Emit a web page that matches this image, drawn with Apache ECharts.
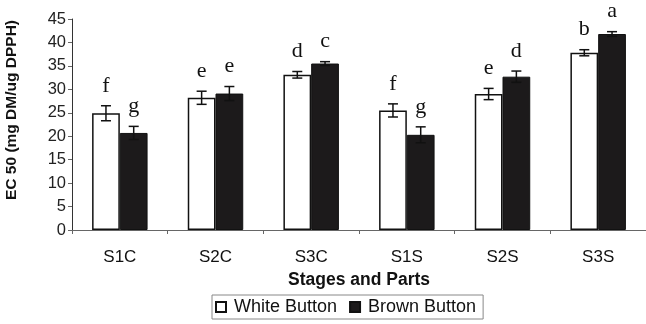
<!DOCTYPE html>
<html>
<head>
<meta charset="utf-8">
<script src="https://cdn.jsdelivr.net/npm/echarts@6/dist/echarts.min.js"></script>
<style>html,body{margin:0;padding:0;background:#fff;}#chart{width:646px;height:324px;}</style>
</head>
<body>
<div id="chart"></div>
<script>
var categories = ['S1C', 'S2C', 'S3C', 'S1S', 'S2S', 'S3S'];
var whiteButton = [24.9, 28.2, 33.1, 25.5, 29.0, 37.8];
var brownButton = [20.7, 29.1, 35.5, 20.3, 32.7, 41.8];
var whiteErr = [1.6, 1.4, 0.7, 1.4, 1.2, 0.65];
var brownErr = [1.4, 1.5, 0.4, 1.7, 1.2, 0.5];
var whiteLetters = ['f', 'e', 'd', 'f', 'e', 'b'];
var brownLetters = ['g', 'e', 'c', 'g', 'd', 'a'];
var yTicks = {min: 0, max: 45, interval: 5};

var BAR_FRAC = 0.29;
var sans = 'Liberation Sans, Arial, sans-serif';
var serif = 'Liberation Serif, Times New Roman, serif';

function errSeries(name, means, errs, letters, side) {
  return {
    type: 'custom',
    name: name + ' err',
    z: 5,
    silent: true,
    data: means.map(function (m, i) { return [i, m, errs[i]]; }),
    renderItem: function (params, api) {
      var i = api.value(0), m = api.value(1), e = api.value(2);
      var band = api.size([1, 0])[0];
      var off = side * band * BAR_FRAC / 2;
      var top = api.coord([i, m + e]);
      var bot = api.coord([i, m - e]);
      var x = top[0] + off;
      var cap = 5;
      var st = {stroke: '#111', lineWidth: 1.5};
      return {
        type: 'group',
        children: [
          {type: 'line', shape: {x1: x, y1: top[1], x2: x, y2: bot[1]}, style: st},
          {type: 'line', shape: {x1: x - cap, y1: top[1], x2: x + cap, y2: top[1]}, style: st},
          {type: 'line', shape: {x1: x - cap, y1: bot[1], x2: x + cap, y2: bot[1]}, style: st},
          {type: 'text', x: x, y: top[1] - 9,
            style: {text: letters[params.dataIndex], fontFamily: serif, fontSize: 22,
              fill: '#111', align: 'center', verticalAlign: 'bottom'}}
        ]
      };
    }
  };
}

var chart = echarts.init(document.getElementById('chart'), null, {renderer: 'canvas'});
chart.setOption({
  animation: false,
  backgroundColor: '#fff',
  grid: {left: 72, top: 19, width: 580, height: 211},
  legend: {
    left: 212, top: 295,
    padding: [3, 7, 3, 3],
    borderColor: '#888', borderWidth: 1,
    itemWidth: 10, itemHeight: 10, itemGap: 12,
    icon: 'rect',
    textStyle: {fontFamily: sans, fontSize: 18, color: '#111', padding: [0, 0, 0, 3]},
    data: ['White Button', 'Brown Button']
  },
  xAxis: {
    type: 'category',
    data: categories,
    name: 'Stages and Parts',
    nameLocation: 'middle',
    nameGap: 36,
    nameTextStyle: {fontFamily: sans, fontSize: 17.5, fontWeight: 'bold', color: '#111'},
    axisLine: {lineStyle: {color: '#666', width: 1}},
    axisTick: {show: true, length: 4, lineStyle: {color: '#666'}},
    axisLabel: {fontFamily: sans, fontSize: 17, color: '#111', margin: 19}
  },
  yAxis: {
    type: 'value',
    min: yTicks.min, max: yTicks.max, interval: yTicks.interval,
    splitLine: {show: false},
    axisLine: {show: true, lineStyle: {color: '#333', width: 1}},
    axisTick: {show: true, length: 4, lineStyle: {color: '#666'}},
    axisLabel: {fontFamily: sans, fontSize: 16.5, color: '#222', margin: 6}
  },
  graphic: [{
    type: 'text', x: 12, y: 110, rotation: Math.PI / 2,
    style: {text: 'EC 50 (mg DM/ug DPPH)', fontFamily: sans, fontSize: 15.5, fontWeight: 'bold',
      fill: '#111', align: 'center', verticalAlign: 'middle'}
  }],
  series: [
    {
      type: 'bar', name: 'White Button', data: whiteButton,
      barWidth: (BAR_FRAC * 100) + '%', barGap: '0%',
      itemStyle: {color: '#fff', borderColor: '#111', borderWidth: 1.5}
    },
    {
      type: 'bar', name: 'Brown Button', data: brownButton,
      barWidth: (BAR_FRAC * 100) + '%', barGap: '0%',
      itemStyle: {color: '#1c1a1b', borderColor: '#111', borderWidth: 1}
    },
    errSeries('White Button', whiteButton, whiteErr, whiteLetters, -1),
    errSeries('Brown Button', brownButton, brownErr, brownLetters, 1)
  ]
});
</script>
</body>
</html>
